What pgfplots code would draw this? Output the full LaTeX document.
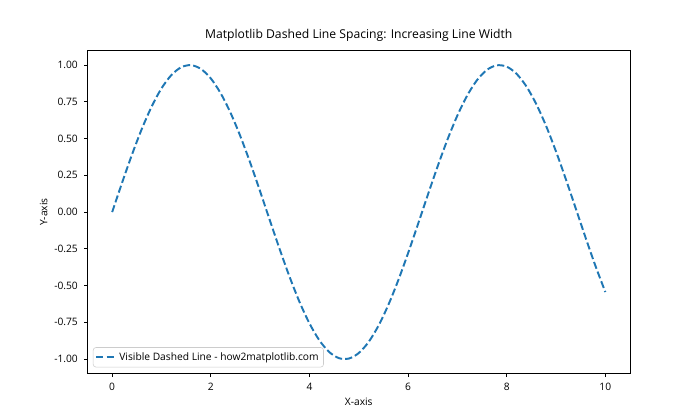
\documentclass[border=0pt]{standalone}
\usepackage{pgfplots}
\pgfplotsset{compat=1.18}
\usepackage{fontspec}
\setmainfont{Open Sans}
\usetikzlibrary{calc}
\definecolor{mplblue}{HTML}{1F77B4}
\begin{document}
\begin{tikzpicture}
\begin{axis}[
  scale only axis,
  width=5.425in, height=3.234in,
  xmin=-0.5, xmax=10.5, ymin=-1.1, ymax=1.1,
  xtick={0,2,4,6,8,10},
  ytick={-1,-0.75,-0.5,-0.25,0,0.25,0.5,0.75,1},
  yticklabel style={xshift=-1pt, /pgf/number format/.cd, fixed, fixed zerofill, precision=2},
  /pgf/number format/assume math mode=true,
  tick align=outside, tick pos=left,
  major tick length=2.45pt,
  tick style={black, line width=0.56pt},
  axis line style={line width=0.56pt},
  ticklabel style={font=\fontsize{7.4}{8.5}\selectfont},
  xticklabel style={yshift=-1pt},
  xlabel={X-axis}, ylabel={Y-axis},
  xlabel style={yshift=2pt},
  ylabel style={yshift=-2pt},
  label style={font=\fontsize{7.4}{8.5}\selectfont},
  title={Matplotlib Dashed Line Spacing: Increasing Line Width},
  title style={font=\fontsize{8.8}{10}\selectfont, yshift=-3pt},
  legend style={font=\fontsize{7.4}{8.5}\selectfont, draw=black!20, fill=white, fill opacity=0.8, text opacity=1, rounded corners=2pt, inner sep=1.5pt, at={(0.01,0.02)}, anchor=south west},
  legend image code/.code={\draw[#1] (0pt,0pt) -- (14pt,0pt);},
  legend cell align=left,
]
\addplot[mplblue, line width=1.4pt, dash pattern=on 5.2pt off 2.24pt, smooth] coordinates {
(0,0) (0.2,0.1987) (0.4,0.3894) (0.6,0.5646) (0.8,0.7174) (1.0,0.8415)
(1.2,0.9320) (1.4,0.9854) (1.6,0.9996) (1.8,0.9738) (2.0,0.9093)
(2.2,0.8085) (2.4,0.6755) (2.6,0.5155) (2.8,0.3350) (3.0,0.1411)
(3.2,-0.0584) (3.4,-0.2555) (3.6,-0.4425) (3.8,-0.6119) (4.0,-0.7568)
(4.2,-0.8716) (4.4,-0.9516) (4.6,-0.9937) (4.8,-0.9962) (5.0,-0.9589)
(5.2,-0.8835) (5.4,-0.7728) (5.6,-0.6313) (5.8,-0.4646) (6.0,-0.2794)
(6.2,-0.0831) (6.4,0.1165) (6.6,0.3115) (6.8,0.4941) (7.0,0.6570)
(7.2,0.7937) (7.4,0.8987) (7.6,0.9679) (7.8,0.9985) (8.0,0.9894)
(8.2,0.9407) (8.4,0.8546) (8.6,0.7344) (8.8,0.5849) (9.0,0.4121)
(9.2,0.2229) (9.4,0.0248) (9.6,-0.1743) (9.8,-0.3665) (10.0,-0.5440)
};
\addlegendentry{Visible Dashed Line - how2matplotlib.com}
\end{axis}
\path ($(current axis.south west)+(-0.875in,-0.462in)$) rectangle ++(7in,4.2in);
\end{tikzpicture}
\end{document}
